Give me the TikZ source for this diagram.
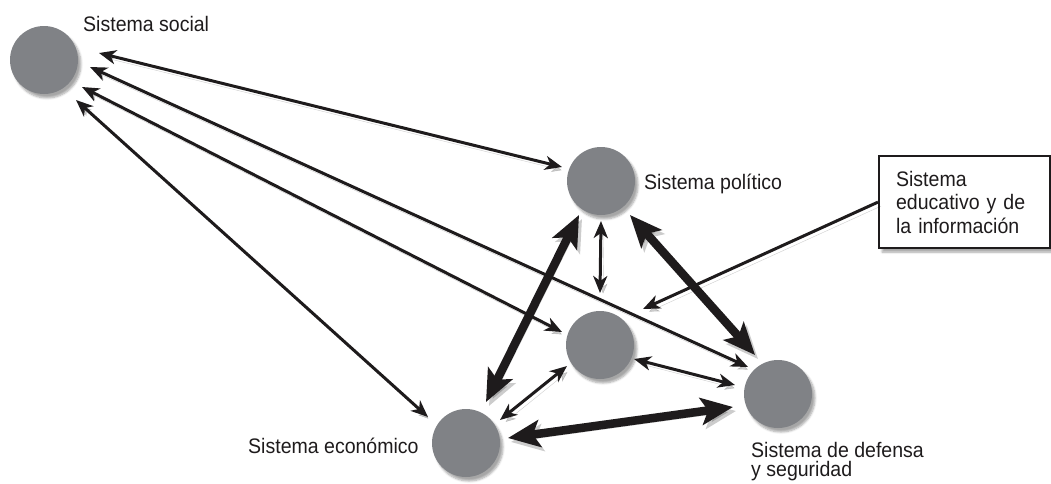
\documentclass[tikz,border=0pt]{standalone}
\usepackage{fontspec}
\setmainfont{Liberation Sans}[FakeStretch=0.93]
\usetikzlibrary{arrows.meta,calc,shadows.blur}
\definecolor{circ}{RGB}{128,130,134}
\definecolor{ink}{RGB}{30,27,28}
\begin{document}
\begin{tikzpicture}[x=1pt,y=-1pt,
  sys/.style={circle, fill=circ, minimum size=68pt, inner sep=0pt, outer sep=0pt,
    blur shadow={shadow xshift=3pt, shadow yshift=-4pt, shadow blur steps=6, shadow opacity=35}},
  lbl/.style={inner sep=0pt, anchor=base west, font=\fontsize{21}{19}\selectfont, text=ink},
  ebox/.style={draw=ink, line width=2.2pt, fill=white, anchor=north west,
    minimum width=171pt, minimum height=92pt, text width=137pt, inner xsep=17pt, inner ysep=0pt,
    align=left, font=\fontsize{21}{23.5}\selectfont, text=ink,
    blur shadow={shadow xshift=3pt, shadow yshift=-4pt, shadow blur steps=6, shadow opacity=35}},
  shd/.style={preaction={draw=black, draw opacity=0.2, fill opacity=0.2,
    transform canvas={shift={(3pt,-4pt)}}}},
  twoway/.style={shd, draw=ink, line width=3pt,
    {Stealth[length=17pt,width=14pt,inset=5pt]}-{Stealth[length=17pt,width=14pt,inset=5pt]}},
  oneway/.style={shd, draw=ink, line width=3pt, -{Stealth[length=17pt,width=14pt,inset=5pt]}},
  bigway/.style={shd, draw=ink, line width=8.5pt,
    {Stealth[length=32pt,width=27pt,inset=7pt]}-{Stealth[length=32pt,width=27pt,inset=7pt]}}
]
\useasboundingbox (0,0) rectangle (1051,483);

% systems
\node[sys] (soc) at (44,60) {};
\node[sys] (pol) at (601,181) {};
\node[sys] (mid) at (600,345) {};
\node[sys] (eco) at (466,443) {};
\node[sys] (def) at (778,394) {};

% labels
\node[lbl] (lsoc) at (83,31) {Sistema social};
\node[lbl] (lpol) at (644,189) {Sistema político};
\node[lbl] (leco) at (248,453) {Sistema económico};
\node[lbl, align=left] (ldef) at (751,476) {Sistema de defensa\\y seguridad};

% box
\node[ebox] (box) at (878,155) {Sistema\\educativo y de\\la información};

% connectors from social system
\draw[twoway] ($(soc)+(55,-7)$) -- ($(pol)+(-39,-14)$);
\draw[twoway] ($(soc)+(46,7)$) -- ($(def)+(-30,-27)$);
\draw[twoway] ($(soc)+(38,27)$) -- ($(mid)+(-38,-13)$);
\draw[twoway] ($(soc)+(32,40)$) -- ($(eco)+(-38,-26)$);

% thick connectors
\draw[bigway] ($(pol)+(-22,34)$) -- ($(eco)+(20,-41)$);
\draw[bigway] ($(pol)+(29,34)$) -- ($(def)+(-23,-39)$);
\draw[bigway] ($(eco)+(42,-5)$) -- ($(def)+(-45,13)$);

% thin connectors
\draw[twoway] ($(pol)+(0,40)$) -- ($(mid)+(0,-52)$);
\draw[twoway] ($(mid)+(-33,21)$) -- ($(eco)+(34,-23)$);
\draw[twoway] ($(mid)+(34,14)$) -- ($(def)+(-43,-9)$);

% box arrow
\draw[oneway] (box.west) -- ($(mid)+(43,-36)$);
\end{tikzpicture}
\end{document}
